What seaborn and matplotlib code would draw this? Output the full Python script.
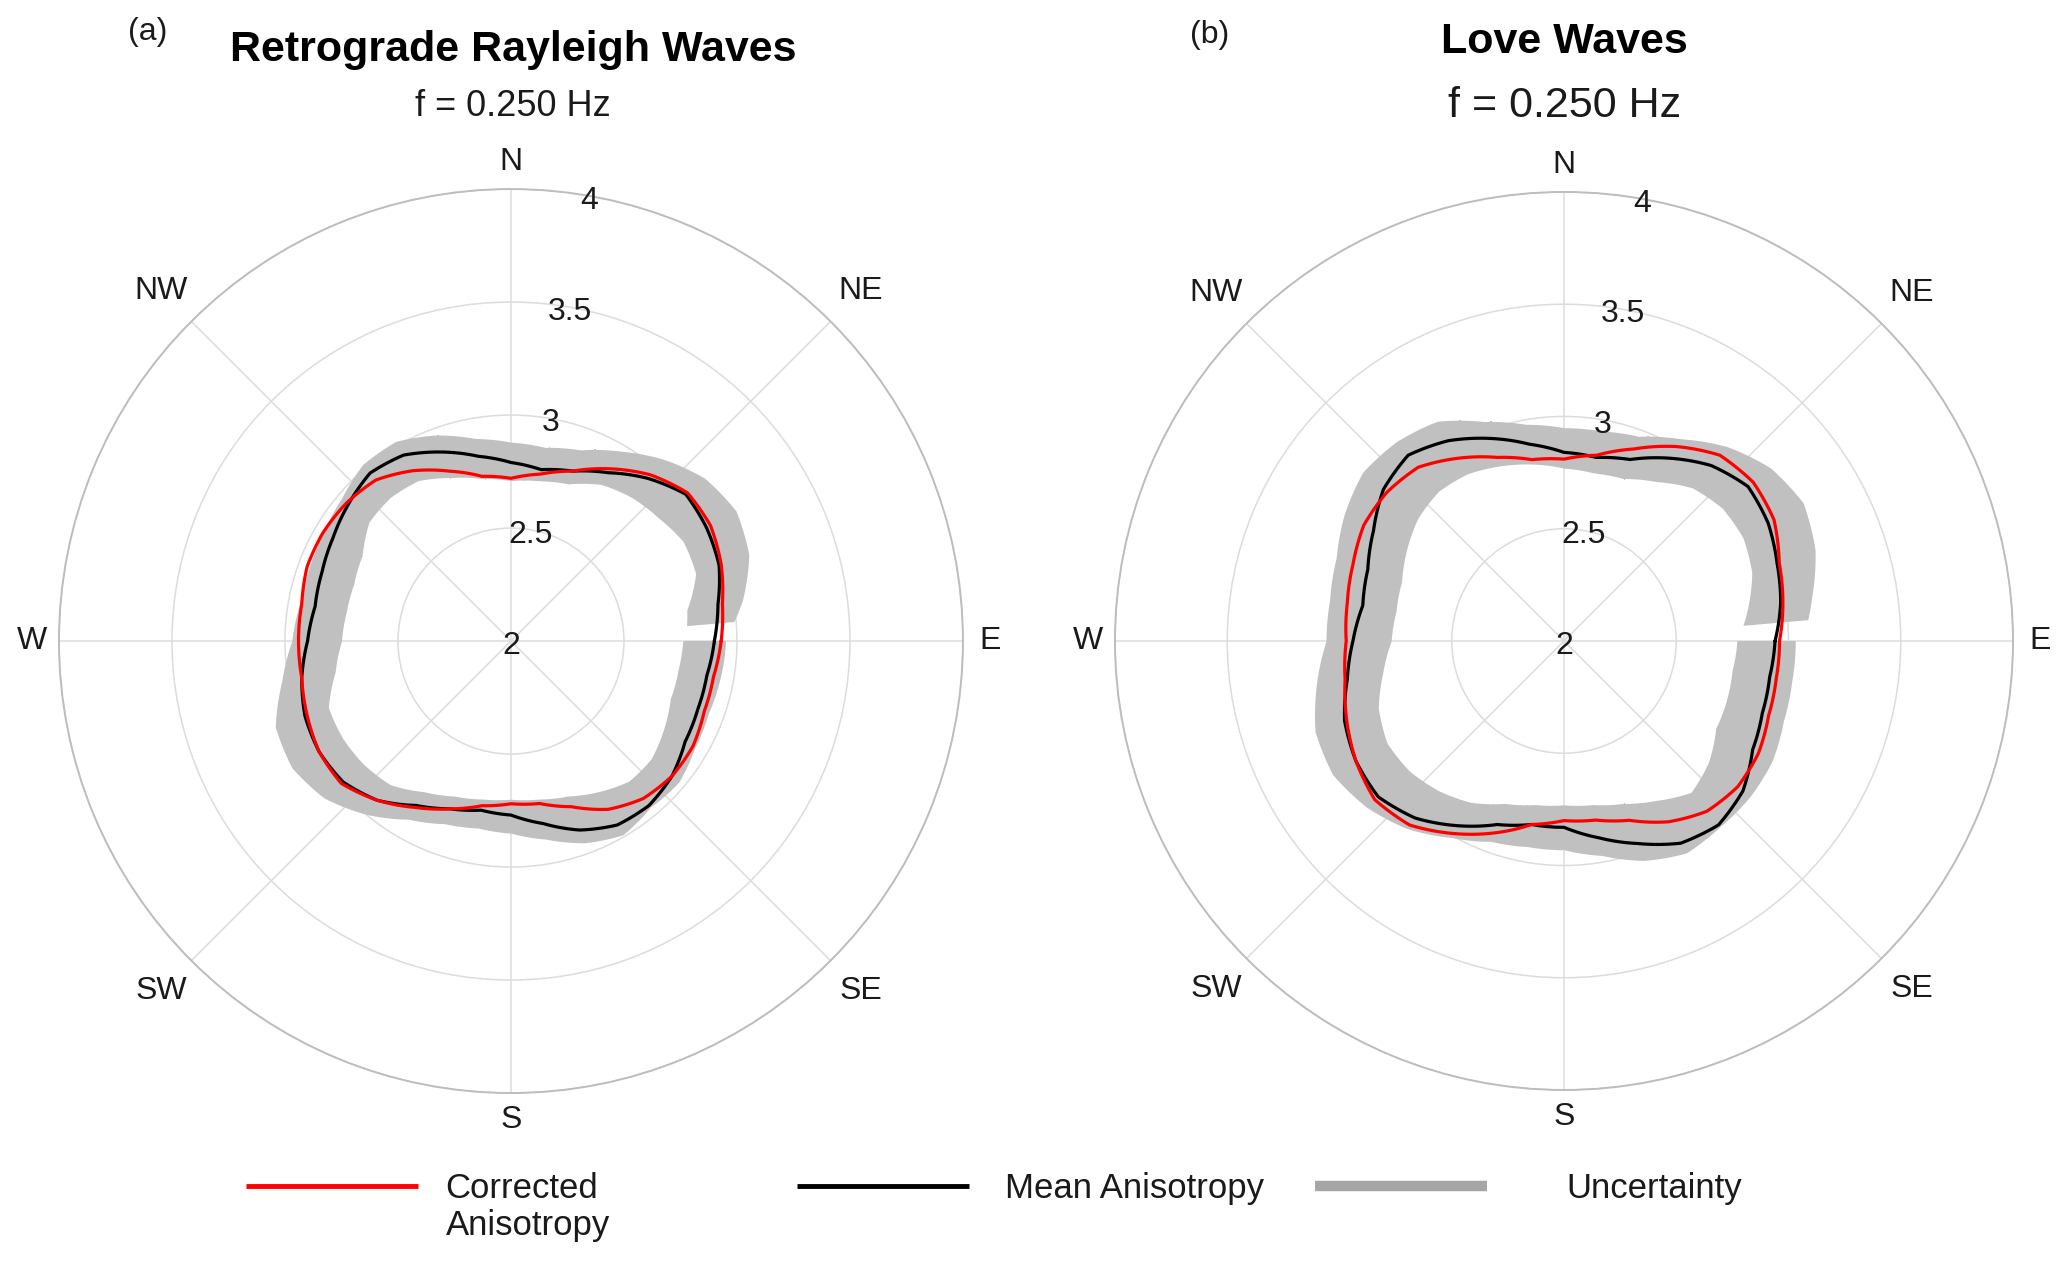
"""Polar anisotropy plots: retrograde Rayleigh vs Love waves at 0.25 Hz."""

import matplotlib

matplotlib.use("Agg")
import matplotlib.pyplot as plt
import matplotlib.transforms as mtransforms
import numpy as np
import seaborn as sns
from matplotlib.lines import Line2D

# azimuths (deg, counter-clockwise from East) for the curves
ANGLES_DEG = list(range(0, 360, 10))
# uncertainty band azimuths (band leaves a small gap just above East)
BAND_DEG = [5] + list(range(10, 361, 10))

# (a) Retrograde Rayleigh waves, velocity km/s
RAY_CORR = [2.93, 2.95, 2.99, 3.02, 3.02, 2.96, 2.88, 2.80, 2.75, 2.72, 2.74, 2.80,
            2.87, 2.93, 2.95, 2.96, 2.96, 2.94, 2.94, 2.94, 2.96, 2.98, 2.98, 2.92,
            2.85, 2.79, 2.74, 2.72, 2.73, 2.78, 2.86, 2.91, 2.93, 2.93, 2.91, 2.91]
RAY_MEAN = [2.90, 2.93, 2.98, 3.00, 3.01, 2.94, 2.86, 2.80, 2.77, 2.79, 2.83, 2.89,
            2.95, 2.97, 2.94, 2.91, 2.89, 2.88, 2.90, 2.94, 2.97, 2.98, 2.97, 2.92,
            2.84, 2.79, 2.76, 2.77, 2.82, 2.89, 2.94, 2.95, 2.93, 2.89, 2.88, 2.88]
RAY_HI = [2.99, 3.04, 3.12, 3.15, 3.12, 3.05, 2.97, 2.90, 2.87, 2.88, 2.91, 2.97, 3.02,
          3.02, 2.98, 2.96, 2.95, 2.95, 2.97, 3.03, 3.11, 3.12, 3.08, 3.00, 2.91,
          2.86, 2.84, 2.85, 2.89, 2.95, 2.99, 2.96, 2.97, 2.94, 2.93, 2.94, 2.95]
RAY_LO = [2.78, 2.79, 2.87, 2.88, 2.85, 2.83, 2.80, 2.74, 2.72, 2.71, 2.73, 2.77, 2.82,
          2.83, 2.82, 2.76, 2.74, 2.74, 2.75, 2.79, 2.86, 2.86, 2.85, 2.83, 2.77,
          2.73, 2.71, 2.70, 2.71, 2.73, 2.77, 2.81, 2.81, 2.78, 2.75, 2.75, 2.76]

# (b) Love waves
LOVE_CORR = [2.96, 2.99, 3.02, 3.08, 3.10, 3.08, 3.00, 2.91, 2.84, 2.81, 2.82, 2.87,
             2.94, 3.01, 3.03, 3.03, 3.00, 2.98, 2.97, 2.99, 3.03, 3.07, 3.10, 3.07,
             2.99, 2.91, 2.83, 2.80, 2.81, 2.85, 2.93, 2.99, 3.01, 3.00, 2.97, 2.96]
LOVE_MEAN = [2.94, 2.98, 3.01, 3.05, 3.07, 3.02, 2.94, 2.86, 2.83, 2.84, 2.89, 2.96,
             3.03, 3.08, 3.05, 2.98, 2.93, 2.91, 2.94, 2.98, 3.04, 3.07, 3.08, 3.03,
             2.95, 2.87, 2.83, 2.83, 2.89, 2.96, 3.04, 3.07, 3.04, 2.97, 2.94, 2.93]
LOVE_HI = [3.09, 3.12, 3.19, 3.23, 3.20, 3.13, 3.04, 2.97, 2.95, 2.95, 2.98, 3.04, 3.13,
           3.16, 3.17, 3.13, 3.08, 3.06, 3.06, 3.12, 3.18, 3.19, 3.15, 3.09, 3.01,
           2.95, 2.93, 2.93, 2.97, 3.04, 3.09, 3.08, 3.08, 3.07, 3.04, 3.03, 3.03]
LOVE_LO = [2.80, 2.83, 2.89, 2.92, 2.92, 2.89, 2.82, 2.77, 2.76, 2.77, 2.80, 2.83, 2.86,
           2.87, 2.85, 2.81, 2.77, 2.76, 2.77, 2.82, 2.88, 2.91, 2.90, 2.87, 2.83,
           2.77, 2.74, 2.73, 2.74, 2.77, 2.82, 2.88, 2.84, 2.78, 2.77, 2.76, 2.77]

R_TICKS = [2, 2.5, 3, 3.5, 4]
R_TICK_LABELS = ["2", "2.5", "3", "3.5", "4"]
COMPASS_DEG = [90, 45, 0, 315, 270, 225, 180, 135]
COMPASS = ["N", "NE", "E", "SE", "S", "SW", "W", "NW"]

RED = "#ff0000"
BLACK = "#000000"
BAND = "#c0c0c0"
GRID = "#dcdcdc"
INK = "#1a1a1a"
FONT = ["Liberation Sans", "DejaVu Sans"]


def closed(deg, vals):
    th = np.deg2rad(list(deg) + [deg[0] + 360])
    return th, list(vals) + [vals[0]]


def polar_panel(fig, rect, corr, mean, lo, hi):
    ax = fig.add_axes(rect, projection="polar")
    ax.set_axisbelow(True)
    band = ax.fill_between(np.deg2rad(BAND_DEG), lo, hi, color=BAND, lw=0, zorder=1)
    for p in band.get_paths():
        p._interpolation_steps = 16
    th, r = closed(ANGLES_DEG, mean)
    sns.lineplot(x=th, y=r, sort=False, color=BLACK, lw=2.3, ax=ax, zorder=3)
    th, r = closed(ANGLES_DEG, corr)
    sns.lineplot(x=th, y=r, sort=False, color=RED, lw=2.3, ax=ax, zorder=4)
    # follow the polar transform between samples instead of straight chords
    for ln in ax.lines:
        ln.get_path()._interpolation_steps = 16

    ax.set_ylim(2, 4)
    ax.set_yticks(R_TICKS)
    ax.set_yticklabels([])
    ax.set_xticks(np.deg2rad([0, 45, 90, 135, 180, 225, 270, 315]))
    ax.set_xticklabels([])
    ax.grid(True, color=GRID, lw=1.1)
    ax.spines["polar"].set_color("#bdbdbd")
    ax.spines["polar"].set_linewidth(1.4)
    ax.set_xlabel("")
    ax.set_ylabel("")
    rlab_tr = mtransforms.offset_copy(ax.transData, fig=fig, x=0, y=-5, units="dots")
    for rv, lab in zip(R_TICKS, R_TICK_LABELS):
        ax.text(np.deg2rad(80), rv, lab, ha="center", va="center",
                fontsize=23, color=INK, zorder=5, transform=rlab_tr)
    for ang, lab in zip(COMPASS_DEG, COMPASS):
        rr = 4.12 if ang % 90 == 0 else 4.19
        ax.text(np.deg2rad(ang), rr, lab, ha="center", va="center",
                fontsize=23, color=INK, clip_on=False)
    return ax


sns.set_theme(style="white")
plt.rcParams["font.family"] = FONT

fig = plt.figure(figsize=(20.67, 12.62), dpi=100)
fig.patch.set_facecolor("white")

polar_panel(fig, [0.0285, 0.1339, 0.4374, 0.7163], RAY_CORR, RAY_MEAN, RAY_LO, RAY_HI)
polar_panel(fig, [0.5394, 0.1363, 0.4345, 0.7116], LOVE_CORR, LOVE_MEAN, LOVE_LO, LOVE_HI)

fig.text(0.0716, 0.975, "(a)", fontsize=23, ha="center", va="center", color=INK)
fig.text(0.2482, 0.9605, "Retrograde Rayleigh Waves", fontsize=31, fontweight="bold",
         ha="center", va="center", color="black")
fig.text(0.2482, 0.916, "f = 0.250 Hz", fontsize=26, ha="center", va="center", color=INK)
fig.text(0.5854, 0.9726, "(b)", fontsize=23, ha="center", va="center", color=INK)
fig.text(0.7567, 0.967, "Love Waves", fontsize=31, fontweight="bold",
         ha="center", va="center", color="black")
fig.text(0.7567, 0.916, "f = 0.250 Hz", fontsize=31, ha="center", va="center", color=INK)

legend_items = [
    (Line2D([], [], color=RED, lw=3.5, solid_capstyle="butt"), "Corrected", 0.119, 0.8),
    (Line2D([], [], color=BLACK, lw=3.5, solid_capstyle="butt"), "Mean Anisotropy", 0.3856, 1.05),
    (Line2D([], [], color="#a6a6a6", lw=7.5, solid_capstyle="butt"), "Uncertainty", 0.6362, 2.3),
]
for handle, label, x0, pad in legend_items:
    fig.legend(handles=[handle], labels=[label], loc="upper left",
               bbox_to_anchor=(x0, 0.0715), frameon=False, fontsize=25,
               handlelength=4.95, handletextpad=pad, borderpad=0,
               borderaxespad=0, labelcolor=INK)
# second line of the first legend label
fig.text(0.2158, 0.0293, "Anisotropy", fontsize=25, ha="left", va="center", color=INK)

fig.savefig("out.png", dpi=100, facecolor="white")
